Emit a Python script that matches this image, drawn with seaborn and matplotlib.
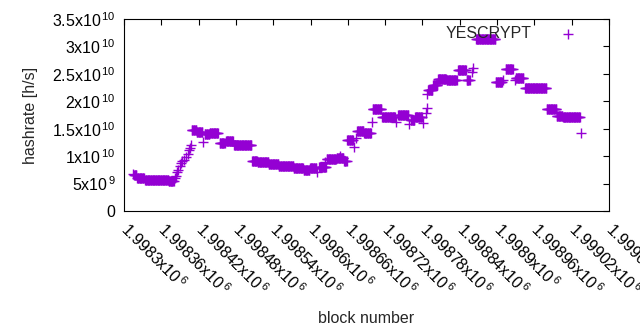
import numpy as np
import pandas as pd
import matplotlib
matplotlib.use('Agg')
import matplotlib.pyplot as plt
import seaborn as sns

# runs of blocks sharing the same hashrate estimate (first block, last block, rate in 1e9 h/s)
run_first = [1998314, 1998316, 1998321, 1998334, 1998359, 1998372,
             1998382, 1998384, 1998385, 1998387, 1998390, 1998392, 1998393,
             1998396, 1998400, 1998403, 1998405, 1998406, 1998408,
             1998409, 1998417, 1998427, 1998430, 1998438, 1998454, 1998464,
             1998477, 1998506, 1998515, 1998533, 1998549, 1998573, 1998589,
             1998599, 1998610, 1998614, 1998623, 1998626, 1998642, 1998647,
             1998654, 1998659, 1998670, 1998673, 1998675, 1998686, 1998699,
             1998700, 1998715, 1998737, 1998741, 1998758, 1998761, 1998768,
             1998781, 1998786, 1998787, 1998788, 1998789, 1998797, 1998805,
             1998819, 1998837, 1998851, 1998860, 1998861, 1998866, 1998898,
             1998909, 1998914, 1998929, 1998930, 1998945, 1998980, 1998996,
             1999006, 1999035]
run_last = [1998314, 1998320, 1998332, 1998358, 1998371, 1998380,
            1998382, 1998384, 1998385, 1998387, 1998390, 1998392, 1998393,
            1998396, 1998400, 1998403, 1998405, 1998406, 1998408,
            1998416, 1998426, 1998427, 1998437, 1998451, 1998462, 1998475,
            1998505, 1998514, 1998532, 1998548, 1998572, 1998588, 1998598,
            1998609, 1998610, 1998625, 1998623, 1998641, 1998653, 1998647,
            1998658, 1998668, 1998670, 1998673, 1998685, 1998697, 1998699,
            1998714, 1998736, 1998737, 1998757, 1998758, 1998767, 1998779,
            1998781, 1998786, 1998787, 1998788, 1998796, 1998804, 1998818,
            1998835, 1998850, 1998856, 1998860, 1998861, 1998897, 1998908,
            1998909, 1998925, 1998929, 1998942, 1998979, 1998995, 1999005,
            1999033, 1999035]
run_rate = [6.75, 6.56, 6.02, 5.65, 5.56, 5.38,
            6.02, 6.38, 7.11, 7.47, 8.20, 8.75, 9.12,
            9.30, 9.84, 10.39, 11.12, 11.48, 12.03,
            14.77, 14.40, 12.58, 14.04, 14.22, 12.40, 12.76,
            12.03, 9.12, 8.93, 8.57, 8.20, 7.84, 7.47,
            7.84, 7.11, 8.02, 8.93, 9.48, 9.66, 10.03,
            9.12, 12.94, 11.67, 13.31, 14.58, 14.22, 16.22,
            18.59, 17.14, 16.22, 17.50, 15.86, 16.59, 17.14,
            16.04, 17.87, 18.78, 21.33, 22.06, 22.97, 24.06,
            23.88, 25.70, 23.88, 25.34, 26.07, 31.36, 23.52,
            23.88, 25.89, 23.88, 24.25, 22.42, 18.59, 17.32,
            17.14, 14.22]

x_ticks = list(range(1998300, 1999081, 60))
y_ticks = [0, 5e9, 1e10, 1.5e10, 2e10, 2.5e10, 3e10, 3.5e10]
y_ticklabels = ['0', r'5x10$^{\,9}$', r'1x10$^{\,10}$', r'1.5x10$^{\,10}$', r'2x10$^{\,10}$',
                r'2.5x10$^{\,10}$', r'3x10$^{\,10}$', r'3.5x10$^{\,10}$']

blocks = np.concatenate([np.arange(a, b + 1) for a, b in zip(run_first, run_last)])
rate = np.concatenate([np.full(b - a + 1, r * 1e9) for a, b, r in zip(run_first, run_last, run_rate)])
df = pd.DataFrame({'block': blocks, 'hashrate': rate})

sns.set_style('white')
plt.rcParams['font.family'] = ['Liberation Sans', 'DejaVu Sans']
plt.rcParams['mathtext.fontset'] = 'custom'
plt.rcParams['mathtext.rm'] = 'Liberation Sans'
plt.rcParams['mathtext.it'] = 'Liberation Sans'

fs = 11.5
fig = plt.figure(figsize=(6.4, 3.3), dpi=100)
ax = fig.add_axes([124 / 640, 119 / 330, 485 / 640, 192 / 330])

sns.scatterplot(data=df, x='block', y='hashrate', marker='+', color='#9400d3',
                s=60, linewidth=1.0, label='YESCRYPT', ax=ax)

ax.set_xlim(1998300, 1999080)
ax.set_ylim(0, 3.5e10)
ax.set_xticks(x_ticks)
ax.set_xticklabels([r'%gx10$^{\,6}$' % (t / 1e6) for t in x_ticks],
                   rotation=-45, ha='left', va='center', rotation_mode='anchor')
ax.set_yticks(y_ticks)
ax.set_yticklabels(y_ticklabels)
ax.tick_params(direction='in', top=True, right=True, length=4, width=0.8,
               labelsize=fs, colors='black')
ax.tick_params(axis='x', pad=11)
ax.tick_params(axis='y', pad=6)
for sp in ax.spines.values():
    sp.set_linewidth(0.8)
    sp.set_color('black')

ax.set_xlabel('block number', fontsize=fs, labelpad=9)
ax.set_ylabel('hashrate [h/s]', fontsize=fs, labelpad=10)

ax.legend(loc='upper right', bbox_to_anchor=(0.975, 0.965), frameon=False,
          markerfirst=False, fontsize=fs, handlelength=3.6, handletextpad=0.5,
          borderpad=0, borderaxespad=0, markerscale=1.0)

fig.savefig('out.png', dpi=100)
